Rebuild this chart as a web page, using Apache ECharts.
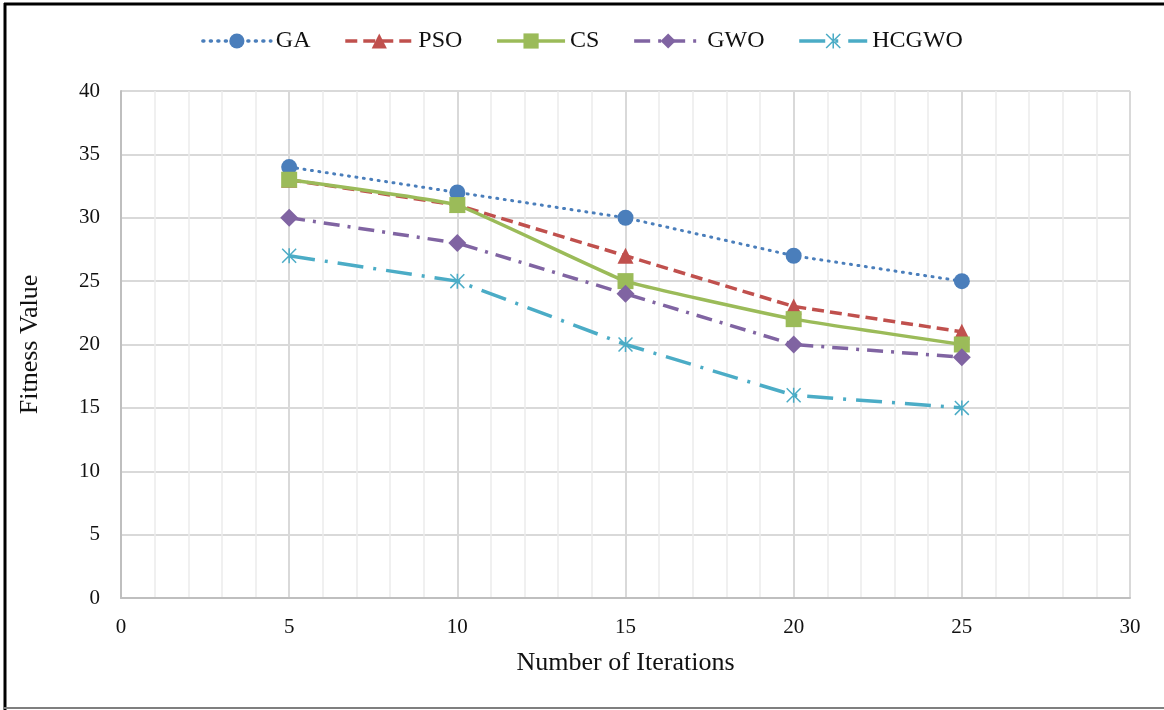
<!DOCTYPE html>
<html>
<head>
<meta charset="utf-8">
<script src="https://cdn.jsdelivr.net/npm/echarts@6/dist/echarts.min.js"></script>
<style>
  html, body { margin: 0; padding: 0; background: #fff; }
  #chart { width: 1164px; height: 710px; }
</style>
</head>
<body>
<div id="chart"></div>
<script>
// Fitness value of each optimiser against the number of iterations
const iterations = [5, 10, 15, 20, 25];
const gaValues    = [34, 32, 30, 27, 25];
const psoValues   = [33, 31, 27, 23, 21];
const csValues    = [33, 31, 25, 22, 20];
const gwoValues   = [30, 28, 24, 20, 19];
const hcgwoValues = [27, 25, 20, 16, 15];
const seriesNames = ['GA', 'PSO', 'CS', 'GWO', 'HCGWO'];

const pairs = vals => iterations.map((x, i) => [x, vals[i]]);

// asterisk marker: one vertical bar and two diagonal bars
const asterisk = 'path://M9 0L11 0L11 20L9 20Z M0 1.4L1.4 0L20 18.6L18.6 20Z M18.6 0L20 1.4L1.4 20L0 18.6Z';

const serif = '"Liberation Serif", "Times New Roman", serif';

const chart = echarts.init(document.getElementById('chart'));
chart.setOption({
  animation: false,
  backgroundColor: '#fff',
  textStyle: { fontFamily: serif },
  legend: {
    top: 24,
    left: 'center',
    itemWidth: 68,
    itemHeight: 19,
    itemGap: 33,
    lineStyle: { width: 3.5 },
    textStyle: { fontFamily: serif, fontSize: 24, color: '#111' },
    data: seriesNames
  },
  grid: { left: 121, right: 34, top: 91, bottom: 112 },
  xAxis: {
    type: 'value',
    min: 0, max: 30, interval: 5,
    name: 'Number of Iterations',
    nameLocation: 'middle',
    nameGap: 52,
    nameTextStyle: { fontFamily: serif, fontSize: 26, color: '#111' },
    axisLine: { show: true, lineStyle: { color: '#bfbfbf', width: 2 } },
    axisTick: { show: false },
    axisLabel: { fontFamily: serif, fontSize: 21, color: '#111', margin: 19 },
    splitLine: { show: true, lineStyle: { color: '#d9d9d9', width: 2 } },
    minorTick: { show: false, splitNumber: 5 },
    minorSplitLine: { show: true, lineStyle: { color: '#ebebeb', width: 1.5 } }
  },
  yAxis: {
    type: 'value',
    min: 0, max: 40, interval: 5,
    name: 'Fitness Value',
    nameLocation: 'middle',
    nameGap: 78,
    nameRotate: 90,
    nameTextStyle: { fontFamily: serif, fontSize: 26, color: '#111' },
    axisLine: { show: true, lineStyle: { color: '#bfbfbf', width: 2 } },
    axisTick: { show: false },
    axisLabel: { fontFamily: serif, fontSize: 21, color: '#111', margin: 21 },
    splitLine: { show: true, lineStyle: { color: '#d9d9d9', width: 2 } }
  },
  series: [
    {
      name: 'GA', type: 'line', data: pairs(gaValues),
      symbol: 'circle', symbolSize: 16,
      itemStyle: { color: '#4a7ebb' },
      lineStyle: { color: '#4a7ebb', width: 3, type: [1, 6.5], cap: 'round' }
    },
    {
      name: 'PSO', type: 'line', data: pairs(psoValues),
      symbol: 'triangle', symbolSize: 16,
      itemStyle: { color: '#c0504d' },
      lineStyle: { color: '#c0504d', width: 3.5, type: [12, 6] }
    },
    {
      name: 'CS', type: 'line', data: pairs(csValues),
      symbol: 'rect', symbolSize: 16, smooth: 0.1,
      itemStyle: { color: '#9bbb59' },
      lineStyle: { color: '#9bbb59', width: 3.5 }
    },
    {
      name: 'GWO', type: 'line', data: pairs(gwoValues),
      symbol: 'diamond', symbolSize: 18,
      itemStyle: { color: '#8064a2' },
      lineStyle: { color: '#8064a2', width: 3.5, type: [16, 8, 3, 8] }
    },
    {
      name: 'HCGWO', type: 'line', data: pairs(hcgwoValues),
      symbol: asterisk, symbolSize: 15,
      itemStyle: { color: '#4bacc6' },
      lineStyle: { color: '#4bacc6', width: 3.5, type: [26, 10, 3, 10] }
    }
  ],
  graphic: [
    { type: 'line', shape: { x1: 4, y1: 4, x2: 1164, y2: 4 }, style: { stroke: '#000', lineWidth: 3 } },
    { type: 'line', shape: { x1: 5, y1: 3, x2: 5, y2: 710 }, style: { stroke: '#000', lineWidth: 3 } },
    { type: 'line', shape: { x1: 4, y1: 708, x2: 1164, y2: 708 }, style: { stroke: '#7f7f7f', lineWidth: 2 } }
  ]
});
</script>
</body>
</html>
